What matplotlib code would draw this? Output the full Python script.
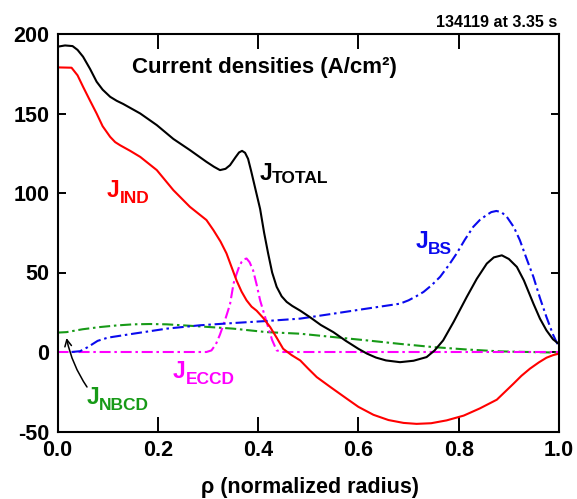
import matplotlib
matplotlib.use("Agg")
import matplotlib.pyplot as plt

# ---------------- data ----------------
rho_total = [0.0, 0.015, 0.03, 0.04, 0.051, 0.065, 0.078, 0.09, 0.105, 0.118,
             0.131, 0.148, 0.165, 0.198, 0.231, 0.264, 0.297, 0.312, 0.324, 0.335,
             0.344, 0.355, 0.362, 0.368, 0.374, 0.38, 0.386, 0.392, 0.398, 0.404,
             0.412, 0.42, 0.428, 0.437, 0.447, 0.457, 0.468, 0.484, 0.503, 0.525,
             0.55, 0.575, 0.6, 0.617, 0.635, 0.655, 0.683, 0.71, 0.736, 0.752,
             0.769, 0.79, 0.816, 0.836, 0.856, 0.87, 0.886, 0.9, 0.916, 0.93,
             0.949, 0.962, 0.975, 0.988, 1.0]
j_total = [192, 192.8, 192.4, 190, 185.7, 178, 170, 165, 160.5, 158,
           156, 153, 150, 142.7, 134, 127, 119.6, 116.5, 114.4, 115.2,
           117.5, 122.5, 125.5, 126.5, 125.3, 121.5, 114, 106, 98, 90,
           75, 62, 50, 41, 35, 31.5, 29, 26, 22, 17,
           12.5, 7, 2, -1, -3.5, -5.3, -6.4, -5.5, -3.2, 1,
           7.3, 19, 34.6, 46, 55.6, 59.5, 60.8, 58.5, 53.5, 45,
           30.4, 21, 13.6, 8, 5]

rho_ind = [0.0, 0.028, 0.04, 0.051, 0.065, 0.078, 0.09, 0.105, 0.115, 0.125,
           0.145, 0.165, 0.198, 0.231, 0.264, 0.297, 0.311, 0.325, 0.337, 0.347,
           0.357, 0.367, 0.377, 0.387, 0.397, 0.41, 0.424, 0.437, 0.45, 0.467,
           0.484, 0.5, 0.517, 0.544, 0.577, 0.6, 0.63, 0.66, 0.69, 0.716,
           0.745, 0.776, 0.81, 0.842, 0.876, 0.909, 0.925, 0.942, 0.96, 0.975,
           0.988, 1.0]
j_ind = [179, 178.8, 174, 166.8, 158, 150, 142, 135.3, 132, 130,
         126.5, 122.7, 114.4, 101.8, 91.3, 83, 76.6, 69.5, 62, 53.5,
         45, 38, 32.5, 28.5, 26, 21.5, 15.7, 9, 2, -2,
         -5.3, -10.5, -15.8, -22, -29.4, -34.5, -39.5, -42.8, -44.6, -45.2,
         -44.8, -43, -40, -35.5, -30, -20, -15, -10.5, -6.5, -3.6,
         -2, -1]

rho_bs = [0.028, 0.045, 0.06, 0.08, 0.1, 0.151, 0.218, 0.284, 0.35, 0.417,
          0.484, 0.55, 0.617, 0.683, 0.7, 0.715, 0.73, 0.746, 0.763, 0.78,
          0.796, 0.812, 0.829, 0.842, 0.855, 0.865, 0.875, 0.885, 0.896, 0.91,
          0.922, 0.935, 0.949, 0.962, 0.975, 0.988, 1.0]
j_bs = [0, 0.5, 3, 7, 9, 11.5, 14.7, 16.8, 18.2, 19.5,
        21, 24.1, 27.3, 30.4, 32.5, 35, 37.8, 42, 47.3, 54.5,
        62, 70.5, 78.7, 83, 86, 88, 88.7, 88, 85, 78.5,
        70.3, 59, 47.2, 34, 22, 11, 3]

rho_eccd = [0.0, 0.297, 0.307, 0.316, 0.324, 0.334, 0.344, 0.351, 0.357, 0.362,
            0.367, 0.372, 0.377, 0.383, 0.39, 0.397, 0.404, 0.412, 0.42, 0.428,
            0.437, 0.45, 1.0]
j_eccd = [0, 0, 1, 5, 11, 20, 30, 43, 49, 53.5,
          56.6, 58.3, 58.8, 56.5, 51.4, 42.5, 32.5, 24, 15.7, 7.5,
          1, 0, 0]

rho_nbcd = [0.0, 0.018, 0.05, 0.085, 0.118, 0.151, 0.185, 0.218, 0.284, 0.35,
            0.417, 0.484, 0.55, 0.617, 0.683, 0.749, 0.815, 0.882, 0.94, 1.0]
j_nbcd = [12.2, 12.5, 14.3, 15.7, 16.7, 17.4, 17.6, 17.4, 16.1, 14.7,
          12.5, 11.5, 9.4, 7.3, 5.1, 3.1, 1.6, 0.4, 0, -0.4]

xticks = [0.0, 0.2, 0.4, 0.6, 0.8, 1.0]
xtick_labels = ["0.0", "0.2", "0.4", "0.6", "0.8", "1.0"]
yticks = [-50, 0, 50, 100, 150, 200]
ytick_labels = ["-50", "0", "50", "100", "150", "200"]

title_text = "Current densities (A/cm\u00b2)"
shot_text = "134119 at 3.35 s"
xlabel_text = "\u03c1 (normalized radius)"

# ---------------- figure ----------------
W, H = 577, 499
FONT = ["Liberation Sans", "DejaVu Sans"]
plt.rcParams["font.family"] = FONT
plt.rcParams["font.weight"] = "bold"

fig = plt.figure(figsize=(W / 100, H / 100), dpi=100)
L, R, T, B = 57.5, 559.0, 34.0, 431.5
ax = fig.add_axes([L / W, 1 - B / H, (R - L) / W, (B - T) / H])


def fp(x, y):
    return (x / W, 1 - y / H)


dd = dict(linestyle=(0, (5.3, 1.8, 1.2, 1.8)), dash_capstyle="butt")
ax.plot(rho_nbcd, j_nbcd, color="#179a17", lw=1.5, **dd)
ax.plot(rho_eccd, j_eccd, color="#ff00ff", lw=1.5, **dd)
ax.plot(rho_bs, j_bs, color="#0a0aee", lw=1.5, **dd)
ax.plot(rho_ind, j_ind, color="#ff0000", lw=1.5)
ax.plot(rho_total, j_total, color="black", lw=1.5)

ax.set_xlim(0, 1)
ax.set_ylim(-50, 200)
ax.set_xticks(xticks)
ax.set_xticklabels(xtick_labels)
ax.set_yticks(yticks)
ax.set_yticklabels(ytick_labels)
ax.tick_params(axis="x", direction="in", length=11, width=1.4, top=True,
               labelsize=15.5, pad=6)
ax.tick_params(axis="y", direction="in", length=6, width=1.4, right=True,
               labelsize=15.5, pad=6)
for lab in ax.get_xticklabels() + ax.get_yticklabels():
    lab.set_fontweight("bold")
for s in ax.spines.values():
    s.set_linewidth(1.5)

# texts
fig.text(*fp(132, 72.5), title_text, fontsize=16, fontweight="bold",
         ha="left", va="baseline")
fig.text(*fp(557, 27), shot_text, fontsize=11.5, fontweight="bold",
         ha="right", va="baseline")
fig.text(*fp(310, 493), xlabel_text, fontsize=15.5, fontweight="bold",
         ha="center", va="baseline")

labels = [
    # (J left, J baseline, sub text, sub left, sub baseline, color)
    (260, 179.5, "TOTAL", 272, 183, "black"),
    (107, 197, "IND", 120, 203, "#ff0000"),
    (416, 248.5, "BS", 428, 253.5, "#0a0aee"),
    (173, 378.5, "ECCD", 186, 383.5, "#ff00ff"),
    (87, 404, "NBCD", 99, 410, "#179a17"),
]
for jx, jy, sub, sx, sy, col in labels:
    fig.text(*fp(jx, jy), "J", fontsize=16.5, fontweight="bold", color=col,
             ha="left", va="baseline")
    fig.text(*fp(sx, sy), sub, fontsize=12.5, fontweight="bold", color=col,
             ha="left", va="baseline")

ax.annotate("", xy=fp(66.5, 338), xycoords="figure fraction",
            xytext=fp(87, 387), textcoords="figure fraction",
            arrowprops=dict(arrowstyle="->", color="black", lw=1.1,
                            connectionstyle="arc3,rad=-0.1",
                            mutation_scale=12, shrinkA=0, shrinkB=0))

fig.savefig("out.png", dpi=100)
